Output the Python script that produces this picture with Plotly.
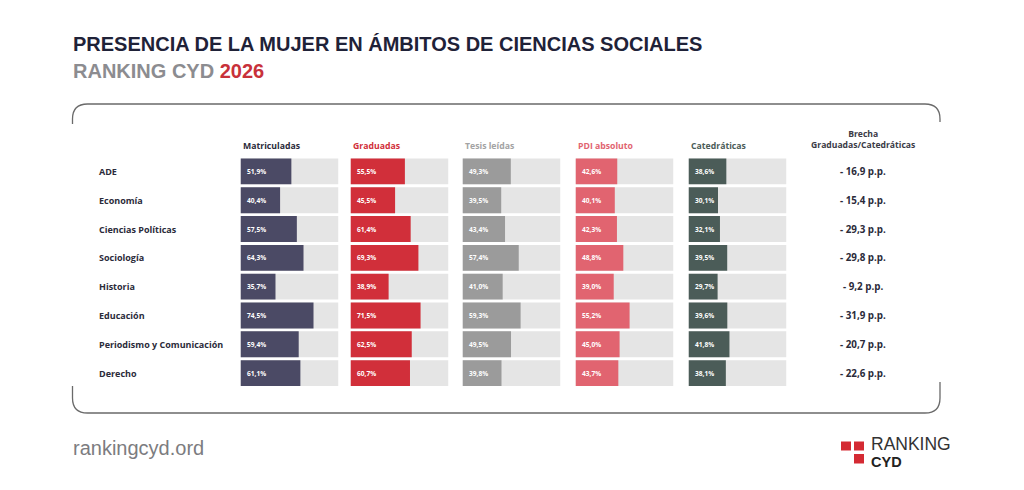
import plotly.graph_objects as go

# ---------------- data ----------------
categories = ["ADE", "Economía", "Ciencias Políticas", "Sociología", "Historia",
              "Educación", "Periodismo y Comunicación", "Derecho"]
column_titles = ["Matriculadas", "Graduadas", "Tesis leídas", "PDI absoluto", "Catedráticas"]
matriculadas = [51.9, 40.4, 57.5, 64.3, 35.7, 74.5, 59.4, 61.1]
graduadas = [55.5, 45.5, 61.4, 69.3, 38.9, 71.5, 62.5, 60.7]
tesis_leidas = [49.3, 39.5, 43.4, 57.4, 41.0, 59.3, 49.5, 39.8]
pdi_absoluto = [42.6, 40.1, 42.3, 48.8, 39.0, 55.2, 45.0, 43.7]
catedraticas = [38.6, 30.1, 32.1, 39.5, 29.7, 39.6, 41.8, 38.1]
brecha = [-16.9, -15.4, -29.3, -29.8, -9.2, -31.9, -20.7, -22.6]
brecha_title = "Brecha<br>Graduadas/Catedráticas"
title_text = "PRESENCIA DE LA MUJER EN ÁMBITOS DE CIENCIAS SOCIALES"
subtitle_text = "RANKING CYD"
subtitle_year = "2026"
footer_text = "rankingcyd.ord"

series = [matriculadas, graduadas, tesis_leidas, pdi_absoluto, catedraticas]

# ---------------- styling ----------------
W, H = 1024, 490
bar_colors = ["#4b4a65", "#d12f3a", "#9b9b9b", "#e16470", "#4b5c58"]
header_colors = ["#2b2b3a", "#d12f3a", "#a3a3a3", "#e16470", "#4b5c58"]
track_color = "#e5e5e5"
dark = "#2b2b3a"
FONT = "Open Sans"
col_starts = [240.5, 350.5, 462.5, 575.5, 688.5]
col_width = 98
row_top, row_bottom = 157.0, 387.5


def px(x):
    return x / W


def py(y):
    return 1 - y / H


fig = go.Figure()
layout_axes = {}
annotations = []

for k, (vals, title) in enumerate(zip(series, column_titles)):
    idx = "" if k == 0 else str(k + 1)
    xa, ya = "x" + idx, "y" + idx
    fig.add_trace(go.Bar(x=[100] * len(categories), y=categories, orientation="h",
                         marker=dict(color=track_color, line=dict(width=0)),
                         xaxis=xa, yaxis=ya, hoverinfo="skip", showlegend=False))
    fig.add_trace(go.Bar(x=vals, y=categories, orientation="h",
                         marker=dict(color=bar_colors[k], line=dict(width=0)),
                         xaxis=xa, yaxis=ya, showlegend=False,
                         hovertemplate="%{y}: %{x}%<extra></extra>"))
    layout_axes["xaxis" + idx] = dict(domain=[px(col_starts[k]), px(col_starts[k] + col_width)],
                                      range=[0, 100], visible=False, anchor=ya, fixedrange=True)
    layout_axes["yaxis" + idx] = dict(domain=[py(row_bottom), py(row_top)],
                                      categoryorder="array", categoryarray=categories,
                                      autorange="reversed", visible=False, anchor=xa,
                                      fixedrange=True)
    # header
    annotations.append(dict(text=title, xref="paper", yref="paper",
                            x=px(col_starts[k]), y=py(145.5), xanchor="left", yanchor="middle",
                            showarrow=False,
                            font=dict(family=FONT, size=8.7, color=header_colors[k], weight="bold")))
    # value labels
    for cat, v in zip(categories, vals):
        annotations.append(dict(text=f"{v:.1f}%".replace(".", ","), xref=xa, yref=ya,
                                x=0, y=cat, xanchor="left", yanchor="middle", xshift=4,
                                showarrow=False,
                                font=dict(family=FONT, size=6.6, color="white", weight="bold")))

# category labels
for cat in categories:
    annotations.append(dict(text=cat, xref="paper", yref="y", x=px(97), y=cat,
                            xanchor="left", yanchor="middle", showarrow=False,
                            font=dict(family=FONT, size=9, color=dark, weight="bold")))

# brecha column
annotations.append(dict(text=brecha_title, xref="paper", yref="paper", x=px(862.5), y=py(139.5),
                        xanchor="center", yanchor="middle", showarrow=False, align="center",
                        font=dict(family=FONT, size=8.6, color="#3b3b46", weight="bold")))
for cat, b in zip(categories, brecha):
    annotations.append(dict(text=f"- {abs(b):.1f} p.p.".replace(".", ",", 1),
                            xref="paper", yref="y", x=px(862.5), y=cat,
                            xanchor="center", yanchor="middle", showarrow=False,
                            font=dict(family=FONT, size=9.8, color=dark, weight="bold")))

# titles
annotations.append(dict(text=title_text, xref="paper", yref="paper", x=px(71), y=py(44),
                        xanchor="left", yanchor="middle", showarrow=False,
                        font=dict(family="Liberation Sans", size=20, color="#1f2238", weight="bold")))
annotations.append(dict(text=f"{subtitle_text} <span style='color:#c8313a'>{subtitle_year}</span>",
                        xref="paper", yref="paper", x=px(71), y=py(71.5),
                        xanchor="left", yanchor="middle", showarrow=False,
                        font=dict(family="Liberation Sans", size=20, color="#8c8c90", weight="bold")))
annotations.append(dict(text=footer_text, xref="paper", yref="paper", x=px(71), y=py(448),
                        xanchor="left", yanchor="middle", showarrow=False,
                        font=dict(family="Liberation Sans", size=20, color="#7c7c80")))
# logo text
annotations.append(dict(text="RANKING", xref="paper", yref="paper", x=px(869), y=py(443.5),
                        xanchor="left", yanchor="middle", showarrow=False,
                        font=dict(family="Liberation Sans", size=17.5, color="#333333")))
annotations.append(dict(text="CYD", xref="paper", yref="paper", x=px(869), y=py(461.5),
                        xanchor="left", yanchor="middle", showarrow=False,
                        font=dict(family="Liberation Sans", size=14.5, color="#222222", weight="bold")))


def path(points):
    s = ""
    for cmd, *pts in points:
        s += cmd + " " + " ".join(f"{px(a):.5f},{py(b):.5f}" for a, b in pts) + " "
    return s.strip()


r = 15
L, R, T, B = 72.5, 940, 104, 413
shapes = [
    dict(type="path", xref="paper", yref="paper",
         path=path([("M", (L, 124)), ("L", (L, T + r)), ("Q", (L, T), (L + r, T)),
                    ("L", (R - r, T)), ("Q", (R, T), (R, T + r)), ("L", (R, 122))]),
         line=dict(color="#6a6a6a", width=1.3)),
    dict(type="path", xref="paper", yref="paper",
         path=path([("M", (L, 386)), ("L", (L, B - r)), ("Q", (L, B), (L + r, B)),
                    ("L", (R - r, B)), ("Q", (R, B), (R, B - r)), ("L", (R, 382))]),
         line=dict(color="#6a6a6a", width=1.3)),
]
# logo squares
for (x0, y0, x1, y1) in [(841, 441.5, 851, 450.5), (854, 441.5, 864, 450.5), (854, 454, 864, 463.5)]:
    shapes.append(dict(type="rect", xref="paper", yref="paper", x0=px(x0), x1=px(x1),
                       y0=py(y1), y1=py(y0), fillcolor="#d42a33", line=dict(width=0)))

fig.update_layout(width=W, height=H, margin=dict(l=0, r=0, t=0, b=0),
                  paper_bgcolor="white", plot_bgcolor="rgba(0,0,0,0)",
                  barmode="overlay", bargap=0.1, showlegend=False,
                  annotations=annotations, shapes=shapes, **layout_axes)

fig.write_html("out.html", config={"displayModeBar": False},
               post_script="document.body.style.margin='0';document.body.style.overflow='hidden';")
